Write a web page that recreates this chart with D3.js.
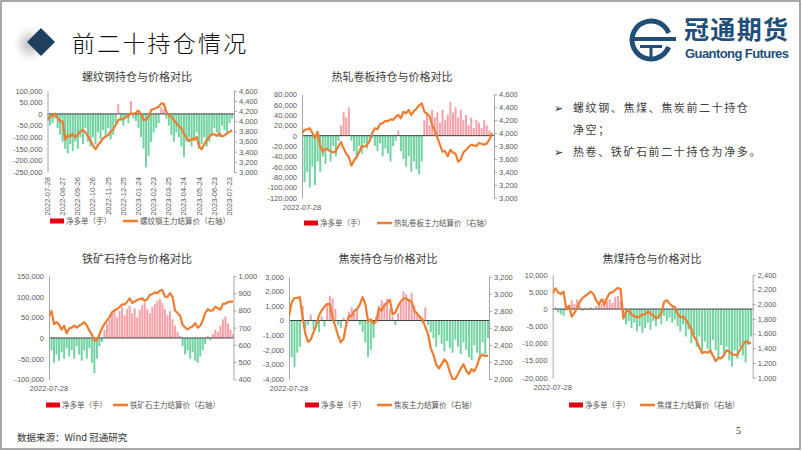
<!DOCTYPE html>
<html><head><meta charset="utf-8">
<script src="https://cdn.jsdelivr.net/npm/d3@7"></script>
<style>
body{margin:0;background:#fff;}
svg{display:block;font-family:"Noto Sans CJK SC","Noto Sans",sans-serif;}
</style>
</head><body>
<svg id="c" width="802" height="451"></svg>
<script>
// ---------- DATA ----------
const startDate = "2022-07-28";
const stepDays = 5;

const rbTickLabels = ["2022-07-28","2022-08-27","2022-09-26","2022-10-26","2022-11-25","2022-12-25","2023-01-24","2023-02-23","2023-03-25","2023-04-24","2023-05-24","2023-06-23","2023-07-23"];

const rbNet = [-30000,-50000,-40000,-20000,-60000,-90000,-120000,-150000,-170000,-130000,
 -160000,-120000,-150000,-100000,-130000,-60000,-120000,-140000,-100000,-130000,
 -80000,-110000,-70000,-100000,-60000,-110000,-90000,-40000,43000,-30000,
 -50000,-20000,-40000,55000,-20000,-30000,-60000,-100000,-150000,-230000,
 -180000,-120000,-80000,-60000,-40000,30000,20000,-20000,-50000,-90000,
 -120000,-80000,-100000,-140000,-185000,-120000,-100000,-140000,-110000,-80000,
 -150000,-130000,-100000,-140000,-120000,-90000,-60000,-80000,-100000,-50000,
 -70000,-90000,-40000,-20000];
const rbPrice = [4036,4088,4100,4150,4060,4000,3990,3640,3720,3700,
 3750,3680,3740,3800,3826,3780,3710,3620,3520,3450,
 3530,3590,3662,3695,3728,3793,3840,3925,4023,4050,
 4036,4088,4100,4154,4141,4167,4207,4140,4023,4030,
 4080,4220,4240,4260,4285,4350,4340,4187,4120,4088,
 4020,3960,3900,3859,3750,3680,3610,3660,3630,3690,
 3500,3446,3540,3630,3690,3740,3740,3710,3760,3700,
 3720,3760,3790,3826];

const hcNet = [-80000,-90000,-70000,-100000,-60000,-95000,-50000,-70000,-40000,-55000,
 -30000,-50000,-20000,-40000,-10000,20000,45000,35000,55000,-10000,
 -30000,-45000,-20000,-35000,-15000,-25000,-10000,-5000,-20000,-30000,
 -15000,-40000,-25000,-35000,-50000,-20000,-10000,10000,-30000,-45000,
 -60000,-40000,-70000,-50000,-65000,-75000,-50000,30000,45000,20000,
 50000,35000,45000,25000,50000,30000,40000,65000,45000,55000,
 35000,50000,30000,40000,20000,35000,15000,30000,25000,15000,
 30000,20000,10000,5000];
const hcPrice = [4000,4050,4058,4074,4000,3920,4022,3800,3710,3760,
 3740,3720,3700,3720,3800,3860,3764,3680,3630,3495,
 3580,3630,3712,3800,3790,3815,3880,4000,4074,4060,
 4140,4155,4190,4185,4213,4205,4250,4280,4230,4330,
 4306,4357,4280,4340,4380,4430,4460,4330,4300,4260,
 4125,4040,3930,3820,3712,3720,3640,3740,3700,3680,
 3557,3590,3700,3740,3785,3820,3810,3800,3845,3835,
 3820,3840,3900,4000];

const ioNet = [-50000,-30000,-60000,-40000,-55000,-35000,-50000,-25000,-45000,-30000,
 -50000,-20000,-40000,-55000,-30000,-50000,-25000,-60000,-85000,-50000,
 -20000,-10000,20000,35000,45000,60000,70000,50000,65000,75000,
 55000,70000,78000,60000,72000,50000,68000,80000,85000,70000,
 60000,75000,82000,90000,95000,85000,70000,55000,65000,45000,
 30000,15000,5000,-20000,-40000,-30000,-50000,-35000,-55000,-60000,
 -45000,-30000,-15000,5000,-5000,10000,20000,15000,30000,45000,
 52000,35000,20000,10000];
const ioPrice = [764,796,720,732,718,688,710,667,695,700,
 712,700,712,720,732,712,684,660,625,626,
 660,695,722,742,760,790,800,808,820,835,
 835,851,870,843,851,861,866,870,855,866,
 890,895,905,900,915,918,880,878,900,880,
 800,785,770,716,702,690,700,708,726,700,
 710,742,785,808,798,800,822,812,805,838,
 840,848,851,851];

const jtNet = [-1500,-2500,-3200,-2200,-1800,1000,-500,-300,400,-600,
 -200,-800,300,-400,1200,1700,1500,800,-300,-500,
 200,-400,600,900,500,800,-300,-800,-1500,-2500,
 -2000,-1200,300,1000,1400,1200,1500,800,300,-300,
 500,1200,2000,1800,1500,1900,1000,500,300,-200,
 900,-300,-800,-1200,-1800,-1000,-1600,-2100,-1400,-1900,
 -2200,-1300,-1800,-2300,-1500,-2000,-2500,-2700,-1700,-2200,
 -2600,-1500,-2300,-1200];
const jtPrice = [2735,2900,2950,2950,2960,2720,2530,2435,2465,2550,
 2630,2745,2805,2850,2880,2880,2710,2620,2510,2430,
 2470,2639,2740,2740,2800,2820,2875,2960,2880,2677,
 2700,2650,2677,2830,2800,2865,2895,2929,2760,2780,
 2852,2910,2945,2945,2920,2905,2800,2770,2728,2700,
 2610,2530,2360,2285,2170,2125,2174,2230,2190,2080,
 2000,2000,2055,2120,2174,2100,2058,2116,2090,2160,
 2260,2285,2271,2271];

const jmNet = [-800,500,-1000,-1500,-2000,-500,1200,2500,1500,2800,
 1000,-500,300,-300,500,-200,800,2000,1500,3000,
 2200,2800,1800,3500,3800,2500,-3000,-4500,-3500,-5500,
 -4000,-6500,-5000,-7000,-5500,-4000,-6000,-3500,-5000,-3000,
 -4500,-2000,-3500,-2500,-4000,-3000,-5000,-6500,-4500,-8000,
 -6000,-10000,-7500,-11000,-8000,-12500,-9500,-11500,-13000,-9000,
 -12000,-14000,-10500,-13500,-11000,-15000,-16800,-12000,-14500,-11000,
 -13500,-15500,-10500,-8000];
const jmPrice = [2146,2215,2160,2137,2169,1930,1980,1829,1880,1950,
 2033,2085,2112,2140,2170,2137,2050,1995,2065,1990,
 2085,2150,2160,2192,2220,2205,1806,1897,1920,1855,
 1835,1820,1830,1860,1860,1897,1870,1850,1806,1825,
 1880,2030,2055,2010,1970,1960,1865,1822,1829,1790,
 1730,1660,1555,1500,1412,1335,1350,1340,1370,1300,
 1225,1270,1263,1300,1375,1353,1320,1310,1308,1380,
 1444,1495,1476,1470];

const bulletLines = ["螺纹钢、焦煤、焦炭前二十持仓","净空；","热卷、铁矿石前二十持仓为净多。"];

// ---------- DRAW ----------
const svg = d3.select("#c");
const parse = d3.timeParse("%Y-%m-%d");
const t0 = parse(startDate);
const fmt = d => d3.format(",")(d).replace("\u2212","-");
const GREEN = "#5acb93", PINK = "#f2909a", ORANGE = "#ed7d31", AXIS = "#a6a6a6", TXT = "#595959";

// slide border
svg.append("rect").attr("x",1).attr("y",1).attr("width",799).attr("height",448)
  .attr("fill","none").attr("stroke","#8c8c8c").attr("stroke-width",1.5);

// header
const defs = svg.append("defs");
defs.append("filter").attr("id","blur").append("feGaussianBlur").attr("stdDeviation",4);
svg.append("path").attr("d","M32,42 L44,28 L56,42 L44,56 Z").attr("transform","translate(-14,2)")
  .attr("fill","#9a9a9a").attr("opacity",0.55).attr("filter","url(#blur)");
svg.append("path").attr("d","M27,42 L41,28 L55,42 L41,56 Z").attr("fill","#1f3f5f");
svg.append("text").attr("x",72).attr("y",52).text("前二十持仓情况")
  .attr("font-size",23).attr("font-weight",300).attr("letter-spacing",2.2).attr("fill","#111");

// logo
const LB = "#1f4e79";
const arc = d3.arc().innerRadius(16.5).outerRadius(21.5).startAngle(Math.PI*0.62).endAngle(Math.PI*2.38);
svg.append("path").attr("d",arc()).attr("transform","translate(651,40)").attr("fill",LB);
svg.append("rect").attr("x",630).attr("y",37).attr("width",46).attr("height",4).attr("fill",LB);
svg.append("rect").attr("x",640).attr("y",45).attr("width",22).attr("height",3).attr("fill",LB);
svg.append("rect").attr("x",649.5).attr("y",45).attr("width",3).attr("height",15).attr("fill",LB);
svg.append("text").attr("x",684).attr("y",39).text("冠通期货").attr("font-size",25)
  .attr("font-weight","bold").attr("fill",LB).attr("textLength",104);
svg.append("text").attr("x",685).attr("y",58).text("Guantong Futures").attr("font-size",13)
  .attr("font-family","Liberation Sans Narrow, Liberation Sans, sans-serif").attr("font-weight","bold")
  .attr("fill",LB).attr("textLength",104);

// bullets
[[0,108,true],[1,130,false],[2,152,true]].forEach(([i,y,arrow])=>{
  if(arrow) svg.append("text").attr("x",554).attr("y",y+4).text("➢")
     .attr("font-family","DejaVu Sans").attr("font-size",11).attr("fill","#222");
  svg.append("text").attr("x",573).attr("y",y+4).text(bulletLines[i])
     .attr("font-size",11).attr("letter-spacing",1.6).attr("fill","#404040");
});

// footer
svg.append("text").attr("x",17).attr("y",441).text("数据来源：Wind 冠通研究")
  .attr("font-size",9.5).attr("fill","#333");
svg.append("text").attr("x",736).attr("y",434).text("5").attr("font-size",10)
  .attr("font-family","Liberation Serif").attr("fill","#333");

function drawChart(c){
  const g = svg.append("g");
  const n = c.net.length;
  const dates = c.net.map((_,i)=>d3.timeDay.offset(t0, i*stepDays));
  const x = d3.scaleTime().domain([t0, dates[n-1]]).range([c.x0, c.x1]);
  const yL = d3.scaleLinear().domain(c.lDom).range([c.y1, c.y0]);
  const yR = d3.scaleLinear().domain(c.rDom).range([c.y1, c.y0]);
  const clipId = "clip"+c.id;
  defs.append("clipPath").attr("id",clipId).append("rect")
    .attr("x",c.x0).attr("y",c.y0-1).attr("width",c.xR-c.x0+2).attr("height",c.y1-c.y0+2);

  // title
  g.append("text").attr("x",c.tx).attr("y",c.ty).attr("text-anchor","middle")
    .attr("font-size",11).attr("fill","#404040").text(c.title);

  // bars
  g.append("g").attr("clip-path",`url(#${clipId})`).selectAll("rect").data(c.net).join("rect")
    .attr("x",(d,i)=>x(dates[i])-1).attr("width",2)
    .attr("y",d=>Math.min(yL(d),yL(0))).attr("height",d=>Math.abs(yL(d)-yL(0)))
    .attr("fill",d=>d<0?GREEN:PINK).attr("opacity",0.85);

  // zero line
  g.append("line").attr("x1",c.x0).attr("x2",c.xR).attr("y1",yL(0)).attr("y2",yL(0))
    .attr("stroke","#404040").attr("stroke-width",1);

  // left axis
  const la = g.append("g").attr("transform",`translate(${c.x0},0)`)
    .call(d3.axisLeft(yL).tickValues(c.lTicks).tickSize(0).tickSizeOuter(0).tickPadding(5).tickFormat(fmt));
  la.select(".domain").attr("stroke",AXIS);
  la.selectAll("text").attr("font-size",7.5).attr("fill",TXT).attr("font-family","Liberation Sans, sans-serif");

  // right axis
  const ra = g.append("g").attr("transform",`translate(${c.xR},0)`)
    .call(d3.axisRight(yR).tickValues(c.rTicks).tickSize(3).tickSizeOuter(0).tickPadding(2).tickFormat(fmt));
  ra.select(".domain").attr("stroke",AXIS);
  ra.selectAll("line").attr("stroke",AXIS);
  ra.selectAll("text").attr("font-size",7.5).attr("fill",TXT).attr("font-family","Liberation Sans, sans-serif");

  // price line
  const line = d3.line().x((d,i)=>x(dates[i])).y(d=>yR(d));
  g.append("path").datum(c.price).attr("d",line).attr("fill","none")
    .attr("stroke",ORANGE).attr("stroke-width",2.2).attr("stroke-linejoin","round")
    .attr("clip-path",`url(#${clipId})`);

  // date labels
  if(c.rotLabels){
    c.rotLabels.forEach(s=>{
      const xx = x(parse(s));
      g.append("text").attr("transform",`translate(${xx+2.5},${c.y1+5}) rotate(-90)`)
        .attr("text-anchor","end").attr("font-size",7.5).attr("fill",TXT)
        .attr("font-family","Liberation Sans, sans-serif").text(s);
    });
  } else {
    g.append("text").attr("x",c.x0).attr("y",c.y1+12).attr("text-anchor","middle")
      .attr("font-size",7.5).attr("fill",TXT).attr("font-family","Liberation Sans, sans-serif").text(startDate);
  }

  // legend
  g.append("rect").attr("x",c.lgx).attr("y",c.lgy-2.5).attr("width",14).attr("height",5).attr("fill","#e3000f");
  g.append("text").attr("x",c.lgx+16).attr("y",c.lgy+2.5).attr("font-size",7.5).attr("fill",TXT).text("净多单（手）");
  g.append("line").attr("x1",c.lgx2).attr("x2",c.lgx2+15).attr("y1",c.lgy).attr("y2",c.lgy)
    .attr("stroke",ORANGE).attr("stroke-width",2.5);
  g.append("text").attr("x",c.lgx2+17).attr("y",c.lgy+2.5).attr("font-size",7.5).attr("fill",TXT).text(c.lgName);
}

drawChart({id:1,title:"螺纹钢持仓与价格对比",tx:137,ty:81,net:rbNet,price:rbPrice,
  x0:47.5,x1:232,xR:234,y0:90.7,y1:172,lDom:[-250000,100000],lTicks:d3.range(-250000,100001,50000),
  rDom:[3000,4600],rTicks:d3.range(3000,4601,200),rotLabels:rbTickLabels,
  lgx:50,lgx2:123,lgy:221,lgName:"螺纹钢主力结算价（右轴）"});
drawChart({id:2,title:"热轧卷板持仓与价格对比",tx:392,ty:81,net:hcNet,price:hcPrice,
  x0:302,x1:492,xR:494,y0:94.3,y1:197.7,lDom:[-120000,80000],lTicks:d3.range(-120000,80001,20000),
  rDom:[3000,4600],rTicks:d3.range(3000,4601,200),
  lgx:304,lgx2:377,lgy:223,lgName:"热轧卷板主力结算价（右轴）"});
drawChart({id:3,title:"铁矿石持仓与价格对比",tx:137,ty:263,net:ioNet,price:ioPrice,
  x0:49,x1:233,xR:233.5,y0:276,y1:379.3,lDom:[-100000,150000],lTicks:d3.range(-100000,150001,50000),
  rDom:[400,1000],rTicks:d3.range(400,1001,100),
  lgx:46,lgx2:113,lgy:405,lgName:"铁矿石主力结算价（右轴）"});
drawChart({id:4,title:"焦炭持仓与价格对比",tx:388,ty:263,net:jtNet,price:jtPrice,
  x0:289,x1:488,xR:489,y0:276.7,y1:379,lDom:[-4000,3000],lTicks:d3.range(-4000,3001,1000),
  rDom:[2000,3200],rTicks:d3.range(2000,3201,200),
  lgx:305,lgx2:377,lgy:405,lgName:"焦炭主力结算价（右轴）"});
drawChart({id:5,title:"焦煤持仓与价格对比",tx:652,ty:263,net:jmNet,price:jmPrice,
  x0:552.7,x1:751,xR:752.7,y0:274.7,y1:377.7,lDom:[-20000,10000],lTicks:d3.range(-20000,10001,5000),
  rDom:[1000,2400],rTicks:d3.range(1000,2401,200),
  lgx:569,lgx2:640,lgy:405,lgName:"焦煤主力结算价（右轴）"});
</script>
</body></html>
